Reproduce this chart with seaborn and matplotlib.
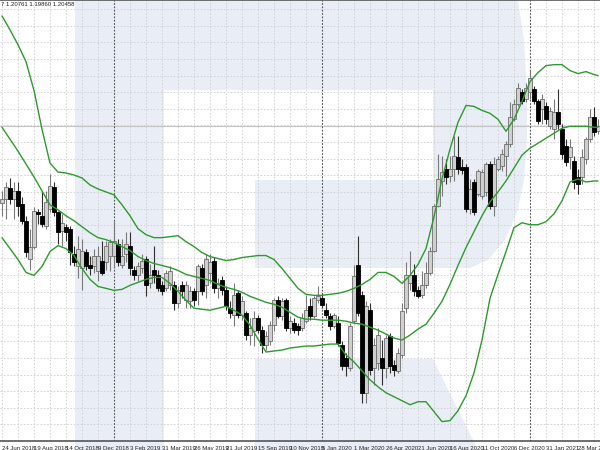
import numpy as np
import pandas as pd
import seaborn as sns
import matplotlib.pyplot as plt
from matplotlib.patches import Polygon

# weekly candles (W1), first bar = week of 24 Jun 2018
week_start = '2018-06-24'

opens = [1.1700, 1.1720, 1.1775, 1.1720, 1.1760, 1.1695, 1.1610, 1.1420, 1.1480, 1.1655,
         1.1635, 1.1585, 1.1670, 1.1780, 1.1655, 1.1560, 1.1580, 1.1570, 1.1445, 1.1380,
         1.1370, 1.1455, 1.1385, 1.1380, 1.1355, 1.1410, 1.1405, 1.1435, 1.1435, 1.1495,
         1.1385, 1.1445, 1.1485, 1.1360, 1.1335, 1.1370, 1.1420, 1.1295, 1.1360, 1.1335,
         1.1285, 1.1270, 1.1285, 1.1285, 1.1195, 1.1285, 1.1210, 1.1205, 1.1255, 1.1255,
         1.1370, 1.1285, 1.1345, 1.1410, 1.1270, 1.1310, 1.1260, 1.1170, 1.1135, 1.1245,
         1.1135, 1.1145, 1.1035, 1.1055, 1.1120, 1.1060, 1.0985, 1.1005, 1.1085, 1.1210,
         1.1130, 1.1210, 1.1070, 1.1095, 1.1080, 1.1070, 1.1105, 1.1180, 1.1130, 1.1210,
         1.1220, 1.1160, 1.1130, 1.1080, 1.1095, 1.0985, 1.0920, 1.0870, 1.1105, 1.1385,
         1.1235, 1.0745, 1.1160, 1.0870, 1.0895, 1.0920, 1.0870, 1.1030, 1.0885, 1.0855,
         1.0935, 1.1170, 1.1295, 1.1335, 1.1260, 1.1235, 1.1285, 1.1345, 1.1460, 1.1685,
         1.1810, 1.1870, 1.1835, 1.1870, 1.1930, 1.1880, 1.1880, 1.1670, 1.1805, 1.1745,
         1.1735, 1.1755, 1.1895, 1.1685, 1.1870, 1.1885, 1.1935, 1.1995, 1.2120, 1.2195,
         1.2255, 1.2220, 1.2255, 1.2270, 1.2210, 1.2170, 1.2185, 1.2085, 1.2070, 1.2155,
         1.2070, 1.1985, 1.1930, 1.1910, 1.1830, 1.1830, 1.1920, 1.2020, 1.2130, 1.2060]
highs = [1.1760, 1.1805, 1.1825, 1.1805, 1.1805, 1.1730, 1.1635, 1.1570, 1.1680, 1.1670,
         1.1755, 1.1760, 1.1845, 1.1805, 1.1660, 1.1645, 1.1595, 1.1585, 1.1485, 1.1535,
         1.1520, 1.1470, 1.1435, 1.1470, 1.1485, 1.1510, 1.1510, 1.1520, 1.1610, 1.1520,
         1.1520, 1.1555, 1.1555, 1.1380, 1.1405, 1.1445, 1.1435, 1.1395, 1.1485, 1.1360,
         1.1305, 1.1360, 1.1380, 1.1305, 1.1280, 1.1305, 1.1305, 1.1280, 1.1270, 1.1395,
         1.1395, 1.1445, 1.1445, 1.1430, 1.1320, 1.1330, 1.1280, 1.1205, 1.1295, 1.1260,
         1.1230, 1.1155, 1.1120, 1.1155, 1.1135, 1.1080, 1.1055, 1.1105, 1.1220, 1.1230,
         1.1220, 1.1220, 1.1130, 1.1120, 1.1095, 1.1145, 1.1235, 1.1220, 1.1230, 1.1280,
         1.1245, 1.1195, 1.1145, 1.1145, 1.1130, 1.1005, 1.0945, 1.1095, 1.1385, 1.1535,
         1.1255, 1.1205, 1.1195, 1.1020, 1.1070, 1.1010, 1.1035, 1.1045, 1.0910, 1.0970,
         1.1195, 1.1405, 1.1460, 1.1395, 1.1280, 1.1355, 1.1405, 1.1480, 1.1695, 1.1945,
         1.1935, 1.1920, 1.1935, 1.2035, 1.2035, 1.1920, 1.1895, 1.1820, 1.1820, 1.1870,
         1.1870, 1.1905, 1.1910, 1.1930, 1.1935, 1.1970, 1.2010, 1.2205, 1.2220, 1.2305,
         1.2270, 1.2305, 1.2370, 1.2290, 1.2220, 1.2245, 1.2205, 1.2180, 1.2220, 1.2270,
         1.2095, 1.2020, 1.2020, 1.1935, 1.1870, 1.1970, 1.2030, 1.2170, 1.2180, 1.2120]
lows = [1.1635, 1.1620, 1.1695, 1.1620, 1.1635, 1.1595, 1.1430, 1.1360, 1.1470, 1.1595,
        1.1580, 1.1570, 1.1655, 1.1635, 1.1495, 1.1485, 1.1510, 1.1385, 1.1380, 1.1320,
        1.1260, 1.1360, 1.1335, 1.1345, 1.1305, 1.1335, 1.1360, 1.1355, 1.1370, 1.1380,
        1.1370, 1.1405, 1.1335, 1.1310, 1.1305, 1.1345, 1.1230, 1.1270, 1.1295, 1.1255,
        1.1235, 1.1255, 1.1260, 1.1160, 1.1170, 1.1220, 1.1170, 1.1170, 1.1180, 1.1185,
        1.1235, 1.1220, 1.1295, 1.1245, 1.1220, 1.1235, 1.1160, 1.1120, 1.1080, 1.1120,
        1.1110, 1.1010, 1.0985, 1.0980, 1.1045, 1.0945, 1.0960, 1.0985, 1.1055, 1.1120,
        1.1110, 1.1055, 1.1045, 1.1045, 1.1035, 1.1055, 1.1095, 1.1110, 1.1120, 1.1195,
        1.1170, 1.1120, 1.1060, 1.1070, 1.0980, 1.0860, 1.0830, 1.0855, 1.1095, 1.1130,
        1.0695, 1.0695, 1.0835, 1.0785, 1.0860, 1.0785, 1.0820, 1.0845, 1.0830, 1.0845,
        1.0920, 1.1145, 1.1260, 1.1230, 1.1220, 1.1220, 1.1270, 1.1335, 1.1455, 1.1680,
        1.1735, 1.1795, 1.1805, 1.1810, 1.1845, 1.1845, 1.1655, 1.1645, 1.1640, 1.1735,
        1.1720, 1.1735, 1.1670, 1.1635, 1.1860, 1.1860, 1.1835, 1.1980, 1.2110, 1.2185,
        1.2195, 1.2205, 1.2220, 1.2195, 1.2095, 1.2095, 1.2095, 1.2070, 1.2020, 1.2070,
        1.1920, 1.1885, 1.1870, 1.1770, 1.1745, 1.1795, 1.1895, 1.2005, 1.2035, 1.2045]
closes = [1.1720, 1.1780, 1.1720, 1.1760, 1.1685, 1.1610, 1.1455, 1.1480, 1.1660, 1.1645,
          1.1595, 1.1705, 1.1785, 1.1655, 1.1555, 1.1600, 1.1555, 1.1455, 1.1405, 1.1470,
          1.1460, 1.1380, 1.1370, 1.1435, 1.1435, 1.1345, 1.1485, 1.1505, 1.1510, 1.1405,
          1.1435, 1.1495, 1.1370, 1.1335, 1.1380, 1.1410, 1.1285, 1.1335, 1.1335, 1.1270,
          1.1255, 1.1345, 1.1355, 1.1195, 1.1260, 1.1255, 1.1285, 1.1255, 1.1210, 1.1380,
          1.1255, 1.1420, 1.1405, 1.1270, 1.1295, 1.1260, 1.1180, 1.1145, 1.1235, 1.1135,
          1.1205, 1.1035, 1.1070, 1.1120, 1.1060, 1.0985, 1.1030, 1.1085, 1.1210, 1.1130,
          1.1205, 1.1070, 1.1105, 1.1060, 1.1060, 1.1120, 1.1160, 1.1130, 1.1220, 1.1230,
          1.1185, 1.1135, 1.1080, 1.1135, 1.0995, 1.0880, 1.0880, 1.1080, 1.1330, 1.1145,
          1.0745, 1.1180, 1.0860, 1.0985, 1.1035, 1.0870, 1.1020, 1.0880, 1.0860, 1.0945,
          1.1155, 1.1335, 1.1335, 1.1255, 1.1230, 1.1285, 1.1345, 1.1460, 1.1685, 1.1820,
          1.1855, 1.1830, 1.1870, 1.1935, 1.1870, 1.1865, 1.1670, 1.1770, 1.1655, 1.1860,
          1.1855, 1.1895, 1.1685, 1.1895, 1.1920, 1.1945, 1.1995, 1.2130, 1.2195, 1.2280,
          1.2210, 1.2280, 1.2330, 1.2210, 1.2110, 1.2220, 1.2120, 1.2160, 1.2155, 1.2095,
          1.1945, 1.1905, 1.1980, 1.1805, 1.1795, 1.1930, 1.2020, 1.2130, 1.2055, 1.2085]

band_weeks = list(range(0, 150, 2)) + [149]
bb_upper = [1.2640, 1.2570, 1.2495, 1.2410, 1.2265, 1.2070, 1.1900, 1.1855, 1.1850, 1.1840,
            1.1825, 1.1790, 1.1770, 1.1755, 1.1740, 1.1690, 1.1635, 1.1570, 1.1540, 1.1525,
            1.1525, 1.1530, 1.1535, 1.1505, 1.1480, 1.1450, 1.1430, 1.1420, 1.1410, 1.1415,
            1.1425, 1.1430, 1.1435, 1.1435, 1.1415, 1.1370, 1.1320, 1.1270, 1.1240, 1.1235,
            1.1235, 1.1240, 1.1245, 1.1255, 1.1270, 1.1290, 1.1315, 1.1350, 1.1350, 1.1330,
            1.1295, 1.1335, 1.1390, 1.1470, 1.1630, 1.1820, 1.1970, 1.2105, 1.2190, 1.2185,
            1.2165, 1.2150, 1.2120, 1.2060, 1.2120, 1.2210, 1.2310, 1.2355, 1.2390, 1.2395,
            1.2395, 1.2365, 1.2350, 1.2360, 1.2345, 1.2340]
bb_middle = [1.2080, 1.2020, 1.1960, 1.1895, 1.1830, 1.1760, 1.1690, 1.1665, 1.1635, 1.1610,
             1.1580, 1.1550, 1.1525, 1.1515, 1.1500, 1.1480, 1.1460, 1.1430, 1.1410, 1.1395,
             1.1385, 1.1375, 1.1360, 1.1340, 1.1330, 1.1320, 1.1310, 1.1290, 1.1275, 1.1265,
             1.1250, 1.1230, 1.1215, 1.1200, 1.1190, 1.1175, 1.1150, 1.1125, 1.1115, 1.1115,
             1.1110, 1.1110, 1.1110, 1.1105, 1.1095, 1.1090, 1.1075, 1.1060, 1.1040, 1.1020,
             1.1010, 1.1035, 1.1065, 1.1090, 1.1145, 1.1205, 1.1290, 1.1385, 1.1475, 1.1555,
             1.1635, 1.1705, 1.1755, 1.1810, 1.1875, 1.1940, 1.1975, 1.2000, 1.2025, 1.2050,
             1.2075, 1.2085, 1.2085, 1.2085, 1.2080, 1.2080]
bb_lower = [1.1525, 1.1470, 1.1415, 1.1350, 1.1335, 1.1380, 1.1455, 1.1485, 1.1470, 1.1435,
            1.1370, 1.1315, 1.1280, 1.1270, 1.1260, 1.1265, 1.1285, 1.1300, 1.1315, 1.1325,
            1.1325, 1.1295, 1.1255, 1.1210, 1.1170, 1.1165, 1.1160, 1.1170, 1.1180, 1.1160,
            1.1135, 1.1085, 1.1015, 1.0950, 1.0955, 1.0960, 1.0970, 1.0975, 1.0980, 1.0980,
            1.0985, 1.0990, 1.0990, 1.0935, 1.0900, 1.0855, 1.0810, 1.0775, 1.0745, 1.0725,
            1.0705, 1.0685, 1.0700, 1.0700, 1.0650, 1.0600, 1.0605, 1.0655, 1.0730, 1.0845,
            1.1010, 1.1220, 1.1340, 1.1455, 1.1575, 1.1600, 1.1590, 1.1590, 1.1605, 1.1645,
            1.1710, 1.1805, 1.1820, 1.1805, 1.1810, 1.1810]

header = '7 1.20761 1.19860 1.20458'

o = np.array(opens); h = np.array(highs); l = np.array(lows); c = np.array(closes)
idx = np.arange(len(c))
dates = pd.date_range(week_start, periods=len(c), freq='7D')
labels = [f'{d.day} {d:%b %Y}' for d in dates[::8]]
year_breaks = [i for i in range(1, len(dates)) if dates[i].year != dates[i - 1].year]

sns.set_style('white')
plt.rcParams['font.family'] = ['Liberation Sans Narrow', 'Liberation Sans', 'DejaVu Sans']
fig = plt.figure(figsize=(6, 4.5), dpi=100)

# faint "R" watermark behind the chart (figure pixels, y from top)
def fig_pts(pts):
    return [(x / 600, 1 - y / 450) for x, y in pts]

wm_color = '#e9eef6'
wm_shapes = [
    [(75, 0), (164, 0), (164, 450), (75, 450)],
    [(164, 0), (518, 0), (524, 40), (527, 90), (527, 140), (524, 180), (517, 212),
     (505, 240), (488, 260), (470, 268), (255, 268), (255, 180), (433, 180),
     (433, 90), (164, 90)],
    [(255, 359), (433, 359), (478, 450), (255, 450)],
]
for pts in wm_shapes:
    fig.add_artist(Polygon(fig_pts(pts), closed=True, facecolor=wm_color,
                           edgecolor='none', transform=fig.transFigure, zorder=-5))

ax = fig.add_axes([0, 9 / 450, 1, 441 / 450])
ax.set_facecolor('none')

# candles
up = c >= o
ax.vlines(idx[up], l[up], h[up], color='#7a7a7a', lw=0.8, zorder=3)
ax.vlines(idx[~up], l[~up], h[~up], color='#303030', lw=0.8, zorder=3)
ax.bar(idx[up], c[up] - o[up], bottom=o[up], width=0.8, color='#cfcfcf',
       edgecolor='#6e6e6e', linewidth=0.6, zorder=4)
ax.bar(idx[~up], o[~up] - c[~up], bottom=c[~up], width=0.8, color='black',
       edgecolor='black', linewidth=0.6, zorder=4)

# bands
for band in (bb_upper, bb_middle, bb_lower):
    sns.lineplot(x=band_weeks, y=band, ax=ax, color='#2e9a2e', lw=1.0, zorder=5)

# bid line and year separators
ax.axhline(c[-1], color='#c4c4c4', lw=0.8, zorder=2)
for yb in year_breaks:
    ax.axvline(yb, color='#505050', lw=0.8, linestyle=(0, (1.5, 1.5)), zorder=2)

ax.set_xlim(-0.5, len(c) - 0.5)
ax.set_ylim(1.0515, 1.2720)
ax.set_xticks(idx[::8])
ax.set_xticks(idx[4::8], minor=True)
ax.set_xticklabels(labels, ha='left', fontsize=4.3, color='#222222')
ax.tick_params(axis='x', which='major', length=2.5, width=0.6, color='#555555', pad=0.8)
ax.tick_params(axis='x', which='minor', length=0)
ax.set_yticks(np.arange(1.26735, 1.05, -0.00835))
ax.tick_params(axis='y', length=0, labelleft=False)
ax.grid(True, which='both', color='#cfcfcf', linestyle=(0, (2, 2)), linewidth=0.6)
ax.set_axisbelow(True)
ax.set_xlabel('')
ax.set_ylabel('')

for side in ('left', 'right'):
    ax.spines[side].set_visible(False)
for side in ('top', 'bottom'):
    ax.spines[side].set_color('#555555')
    ax.spines[side].set_linewidth(1.2)

fig.text(1 / 600, 1 - 5 / 450, header, fontsize=4.3, ha='left', va='center', color='#222222')

fig.savefig('out.png', dpi=100)
